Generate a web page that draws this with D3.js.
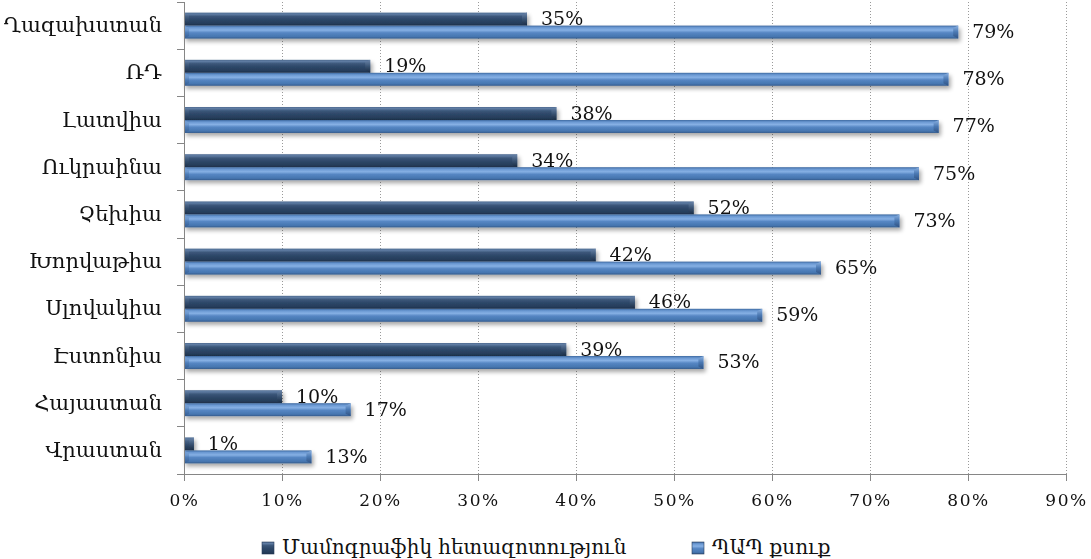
<!DOCTYPE html>
<html>
<head>
<meta charset="utf-8">
<script src="https://cdn.jsdelivr.net/npm/d3@7"></script>
<style>
  html, body { margin: 0; padding: 0; background: #fff; }
  svg { display: block; }
</style>
</head>
<body>
<svg id="chart" width="1091" height="559"></svg>
<script>
// Countries, top to bottom
const categories = ["Ղազախստան", "ՌԴ", "Լատվիա", "Ուկրաինա", "Չեխիա", "Խորվաթիա", "Սլովակիա", "Էստոնիա", "Հայաստան", "Վրաստան"];
// Series names
const seriesNames = ["Մամոգրաֆիկ հետազոտություն", "ՊԱՊ քսուք"];
// Percent values per series
const mammography = [35, 19, 38, 34, 52, 42, 46, 39, 10, 1];
const papSmear = [79, 78, 77, 75, 73, 65, 59, 53, 17, 13];
// Axis ticks
const xTicks = [0, 10, 20, 30, 40, 50, 60, 70, 80, 90];

const svg = d3.select("#chart");
const margin = { left: 184, right: 25, top: 2, bottom: 85 };
const W = 1091, H = 559;

const x = d3.scaleLinear().domain([0, 90]).range([margin.left, W - margin.right]);
const y = d3.scaleBand().domain(categories).range([margin.top, H - margin.bottom])
  .paddingInner(0.45).paddingOuter(0.225);
const sub = d3.scaleBand().domain([0, 1]).range([0, y.bandwidth()]);

const defs = svg.append("defs");
function grad(id, stops) {
  const g = defs.append("linearGradient").attr("id", id)
    .attr("x1", 0).attr("y1", 0).attr("x2", 0).attr("y2", 1);
  stops.forEach(([o, c]) => g.append("stop").attr("offset", o).attr("stop-color", c));
}
grad("gDark", [[0, "#4d6a90"], [0.12, "#5f7ca3"], [0.3, "#3b5679"], [0.55, "#2d4768"], [0.85, "#263d5a"], [1, "#1d304a"]]);
grad("gLight", [[0, "#3e69a0"], [0.15, "#6a98d2"], [0.35, "#86b0e4"], [0.55, "#5686c3"], [0.85, "#4676b0"], [1, "#355b8c"]]);
grad("gDarkEnd", [[0, "#6c86aa"], [0.5, "#3a5474"], [1, "#1a2b42"]]);
grad("gLightEnd", [[0, "#8cb2e2"], [0.5, "#4a78b2"], [1, "#2f5283"]]);

const shadow = defs.append("filter").attr("id", "shadow")
  .attr("x", "-5%").attr("y", "-50%").attr("width", "115%").attr("height", "250%");
shadow.append("feGaussianBlur").attr("in", "SourceAlpha").attr("stdDeviation", 2.2).attr("result", "b");
shadow.append("feOffset").attr("in", "b").attr("dx", 2).attr("dy", 3).attr("result", "o");
shadow.append("feComponentTransfer").attr("in", "o").attr("result", "s")
  .append("feFuncA").attr("type", "linear").attr("slope", 0.35);
const merge = shadow.append("feMerge");
merge.append("feMergeNode").attr("in", "s");
merge.append("feMergeNode").attr("in", "SourceGraphic");

// Vertical dotted gridlines
svg.append("g").selectAll("line").data(xTicks.slice(1)).join("line")
  .attr("x1", d => x(d)).attr("x2", d => x(d))
  .attr("y1", margin.top).attr("y2", H - margin.bottom)
  .attr("stroke", "#9a9a9a").attr("stroke-width", 1).attr("stroke-dasharray", "1,2")
  .attr("shape-rendering", "crispEdges");

// Bars
const series = [
  { vals: mammography, fill: "url(#gDark)", end: "url(#gDarkEnd)" },
  { vals: papSmear, fill: "url(#gLight)", end: "url(#gLightEnd)" }
];
const barsG = svg.append("g");
series.forEach((s, si) => {
  const g = barsG.append("g").attr("filter", "url(#shadow)");
  categories.forEach((c, i) => {
    const v = s.vals[i];
    const x0 = x(0), x1 = x(v);
    const y0 = y(c) + sub(si), h = sub.bandwidth();
    const bg = g.append("g");
    bg.append("rect").attr("x", x0).attr("y", y0).attr("width", x1 - x0).attr("height", h)
      .attr("fill", s.fill);
    const cap = Math.min(5, (x1 - x0) / 2);
    bg.append("path")
      .attr("d", `M${x1 - cap},${y0 + 2.5} L${x1},${y0} L${x1},${y0 + h} L${x1 - cap},${y0 + h - 2.5} Z`)
      .attr("fill", s.end);
    bg.append("path")
      .attr("d", `M${x0},${y0} L${x0 + cap},${y0 + 2.5} L${x0 + cap},${y0 + h - 2.5} L${x0},${y0 + h} Z`)
      .attr("fill", s.end).attr("opacity", 0.6);
  });
});

// Value labels
const labelsG = svg.append("g")
  .attr("font-family", "'DejaVu Serif', 'Liberation Serif', serif")
  .attr("font-size", 19).attr("fill", "#111");
series.forEach((s, si) => {
  categories.forEach((c, i) => {
    const v = s.vals[i];
    labelsG.append("text")
      .attr("x", x(v) + 14)
      .attr("y", y(c) + sub(si) + sub.bandwidth() / 2 + 1)
      .attr("dominant-baseline", "middle")
      .text(v + "%");
  });
});

// Left axis
const yAxis = svg.append("g").attr("transform", `translate(${margin.left},0)`);
yAxis.append("line").attr("x1", 0).attr("x2", 0).attr("y1", margin.top).attr("y2", H - margin.bottom)
  .attr("stroke", "#868686").attr("shape-rendering", "crispEdges");
const boundaries = d3.range(categories.length + 1).map(k => margin.top + k * y.step());
yAxis.selectAll("line.tick").data(boundaries).join("line").attr("class", "tick")
  .attr("x1", -7).attr("x2", 0).attr("y1", d => d).attr("y2", d => d)
  .attr("stroke", "#868686").attr("shape-rendering", "crispEdges");
yAxis.selectAll("text").data(categories).join("text")
  .attr("x", -22).attr("y", d => y(d) + y.bandwidth() / 2 + 1)
  .attr("text-anchor", "end").attr("dominant-baseline", "middle")
  .attr("font-family", "'DejaVu Serif', 'Noto Sans', serif").attr("font-size", 21).attr("fill", "#111")
  .text(d => d);

// Bottom axis
const xAxis = svg.append("g").attr("transform", `translate(0,${H - margin.bottom})`)
  .call(d3.axisBottom(x).tickValues(xTicks).tickFormat(d => d + "%").tickSize(7).tickPadding(13));
xAxis.select(".domain").attr("stroke", "#868686");
xAxis.selectAll(".tick line").attr("stroke", "#868686");
xAxis.selectAll(".tick text")
  .attr("font-family", "'DejaVu Serif', 'Liberation Serif', serif").attr("font-size", 17)
  .attr("letter-spacing", 1.5).attr("fill", "#111");

// Legend
const legend = svg.append("g").attr("font-family", "'DejaVu Serif', 'Noto Sans', serif")
  .attr("font-size", 20).attr("fill", "#111");
const legendItems = [
  { name: seriesNames[0], x: 262, fill: "url(#gDark)" },
  { name: seriesNames[1], x: 692, fill: "url(#gLight)" }
];
legendItems.forEach(it => {
  legend.append("rect").attr("x", it.x).attr("y", 542).attr("width", 12).attr("height", 12)
    .attr("fill", it.fill).attr("stroke", "#2a3f5c").attr("stroke-width", 0.6);
  legend.append("text").attr("x", it.x + 20).attr("y", 548).attr("dominant-baseline", "middle")
    .text(it.name);
});
</script>
</body>
</html>
